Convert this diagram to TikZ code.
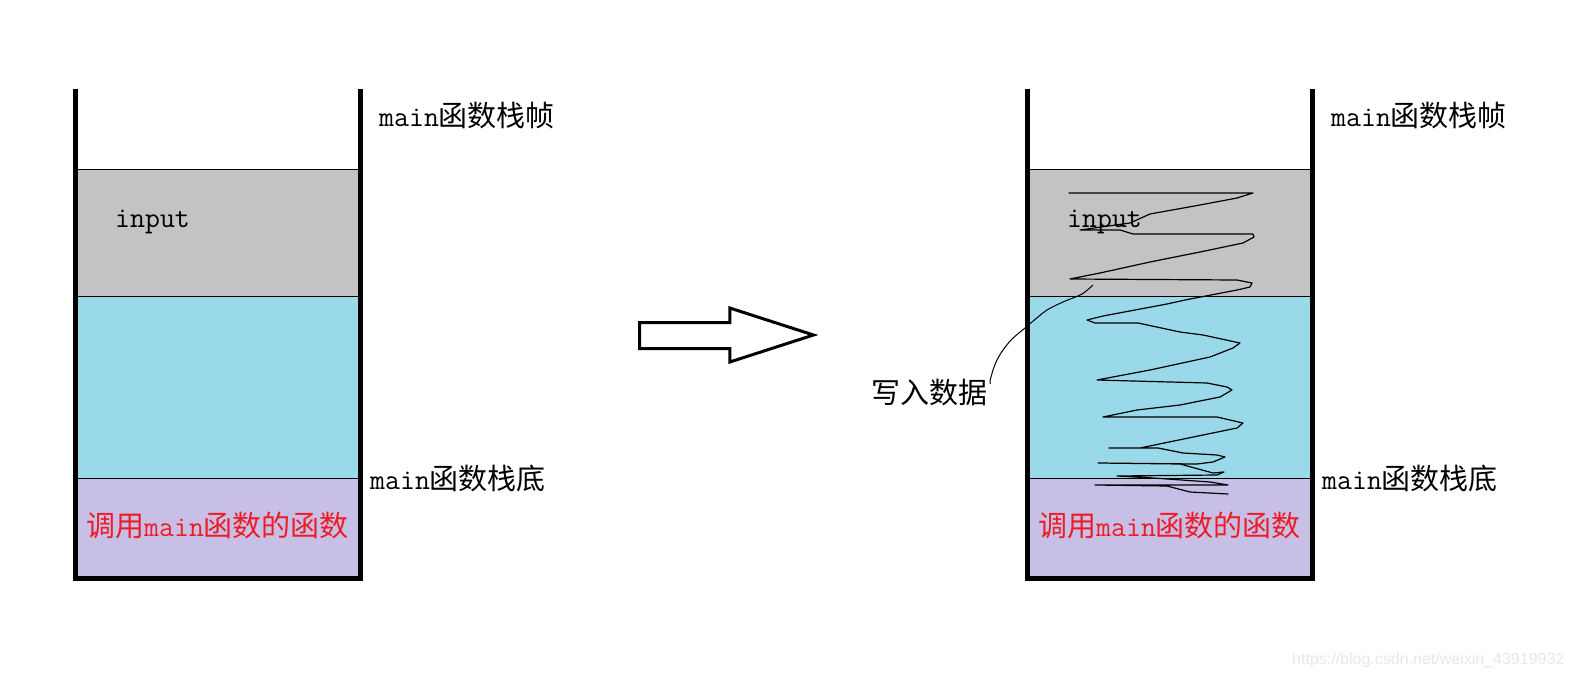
\documentclass[tikz,border=0pt]{standalone}
\usepackage{fontspec}
\newfontfamily\cjk{Noto Sans CJK SC}
\newfontfamily\wmfont{Liberation Sans}
\newcommand\lat[1]{{\ttfamily #1}}
\definecolor{cgray}{HTML}{C3C3C3}
\definecolor{cblue}{HTML}{99D9EA}
\definecolor{cpurple}{HTML}{C8BFE7}
\definecolor{cred}{HTML}{ED1C24}
\definecolor{cwm}{HTML}{E8E8E8}
\tikzset{
  wall/.style={line width=5pt, line join=miter},
  sepline/.style={line width=1.1pt},
  lbl/.style={anchor=west, inner sep=0pt, font=\fontsize{29}{31}\selectfont\cjk},
  redlbl/.style={lbl, text=cred},
  bigarrow/.style={line width=3pt, line join=miter},
  scribble/.style={line width=1.2pt, line join=round, line cap=round},
  leader/.style={line width=1pt},
}
\begin{document}
\begin{tikzpicture}[x=1pt,y=-1pt]
\useasboundingbox (0,0) rectangle (1572,677);
\fill[white] (0,0) rectangle (1572,677);

% ---------- left stack ----------
\fill[cgray]   (75.5,169.5) rectangle (360.5,296.5);
\fill[cblue]   (75.5,296.5) rectangle (360.5,478.5);
\fill[cpurple] (75.5,478.5) rectangle (360.5,578.5);
\draw[sepline] (75.5,169.5) -- (360.5,169.5);
\draw[sepline] (75.5,296.5) -- (360.5,296.5);
\draw[sepline] (75.5,478.5) -- (360.5,478.5);
\draw[wall] (75.5,89) -- (75.5,578.5) -- (360.5,578.5) -- (360.5,89);

\node[lbl] (ltop) at (379,116) {\lat{main}函数栈帧};
\node[lbl] (lbot) at (370,478) {\lat{main}函数栈底};
\node[lbl, anchor=base west] (lin)  at (115,227) {\lat{input}};
\node[redlbl] (lcall) at (86,525) {调用\lat{main}函数的函数};

% ---------- arrow ----------
\draw[bigarrow] (639.5,322.5) -- (729.8,322.5) -- (729.8,308) -- (813.5,335)
  -- (729.8,362) -- (729.8,348.5) -- (639.5,348.5) -- cycle;

% ---------- right stack ----------
\fill[cgray]   (1027.5,169.5) rectangle (1312.5,296.5);
\fill[cblue]   (1027.5,296.5) rectangle (1312.5,478.5);
\fill[cpurple] (1027.5,478.5) rectangle (1312.5,578.5);
\draw[sepline] (1027.5,169.5) -- (1312.5,169.5);
\draw[sepline] (1027.5,296.5) -- (1312.5,296.5);
\draw[sepline] (1027.5,478.5) -- (1312.5,478.5);

\node[lbl] (rtop) at (1331,116) {\lat{main}函数栈帧};
\node[lbl] (rbot) at (1322,478) {\lat{main}函数栈底};
\node[lbl, anchor=base west] (rin)  at (1067,227) {\lat{input}};
\node[redlbl] (rcall) at (1038,525) {调用\lat{main}函数的函数};

% scribble
\draw[scribble] (1069,193) -- (1253,193) -- (1237,198) -- (1200,205) -- (1150,214)
 -- (1130,223) -- (1080,230) -- (1120,230) -- (1133,234) -- (1253,234) -- (1254,237)
 -- (1243,243) -- (1200,252) -- (1150,262) -- (1100,273) -- (1070,279) -- (1237,280)
 -- (1252,283) -- (1250,287) -- (1237,290) -- (1185,300) -- (1167,304) -- (1103,316)
 -- (1087,320) -- (1095,323) -- (1138,323) -- (1180,332) -- (1203,335) -- (1240,343)
 -- (1233,348) -- (1210,357) -- (1150,370) -- (1097,380) -- (1170,382) -- (1207,383)
 -- (1227,387) -- (1232,390) -- (1220,397) -- (1180,405) -- (1137,410) -- (1103,417)
 -- (1217,417) -- (1243,423) -- (1237,428) -- (1203,435) -- (1140,448) -- (1109,448)
 -- (1158,448) -- (1183,453) -- (1217,455) -- (1225,457) -- (1213,462) -- (1197,464)
 -- (1098,463) -- (1180,464) -- (1213,473) -- (1224,472) -- (1217,475) -- (1117,476)
 -- (1153,478) -- (1210,482) -- (1228,485) -- (1095,485) -- (1167,486) -- (1190,492)
 -- (1228,494);

\draw[wall] (1027.5,89) -- (1027.5,578.5) -- (1312.5,578.5) -- (1312.5,89);

% label with leader
\node[lbl] (wr) at (871,393) {写入数据};
\coordinate (wstart) at ([shift={(3,-9)}]wr.east);
\coordinate (wend) at (1093,285);
\draw[leader] plot[smooth, tension=0.5] coordinates {(wstart) (990,381) (993,370) (997,360)
  (1003,350) (1012,339) (1025,328) (1032,322) (1047,310) (1063,302) (1082,294) (wend)};

% watermark
\node[anchor=west, inner sep=0pt, text=cwm, font=\fontsize{16}{18}\selectfont\wmfont] (wm)
  at (1292,660) {https://blog.csdn.net/weixin\_43919932};
\end{tikzpicture}
\end{document}
